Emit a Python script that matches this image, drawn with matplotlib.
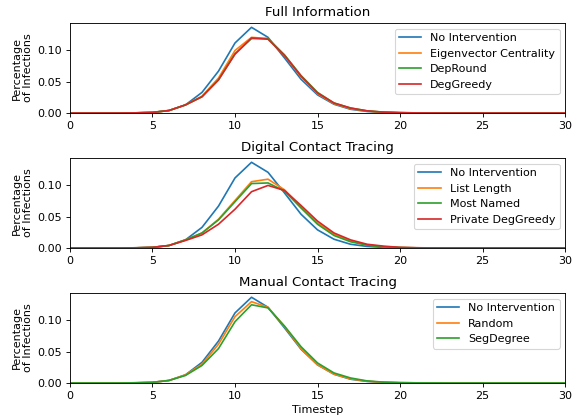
import numpy as np
import matplotlib
matplotlib.use('Agg')
import matplotlib.pyplot as plt

# timesteps 0..30
t = np.arange(0, 31)

# baseline curve, same in every panel
no_intervention = [0, 0, 0, 0, 0.0003, 0.001, 0.004, 0.013, 0.033, 0.067, 0.112, 0.137, 0.121,
                   0.088, 0.054, 0.029, 0.014, 0.006, 0.0025, 0.001, 0.0004, 0.0002, 0.0001,
                   0, 0, 0, 0, 0, 0, 0, 0]

# full information
eigenvector = [0, 0, 0, 0, 0.0003, 0.001, 0.004, 0.013, 0.027, 0.056, 0.100, 0.121, 0.119,
               0.092, 0.058, 0.031, 0.015, 0.007, 0.003, 0.0012, 0.0005, 0.0002, 0.0001,
               0, 0, 0, 0, 0, 0, 0, 0]
depround = [0, 0, 0, 0, 0.0003, 0.001, 0.004, 0.013, 0.026, 0.053, 0.095, 0.119, 0.119,
            0.093, 0.060, 0.033, 0.016, 0.008, 0.0035, 0.0014, 0.0006, 0.0002, 0.0001,
            0, 0, 0, 0, 0, 0, 0, 0]
deggreedy = [0, 0, 0, 0, 0.0003, 0.001, 0.004, 0.013, 0.026, 0.053, 0.094, 0.120, 0.118,
             0.092, 0.059, 0.032, 0.016, 0.008, 0.0035, 0.0014, 0.0006, 0.0002, 0.0001,
             0, 0, 0, 0, 0, 0, 0, 0]

# digital contact tracing
list_length = [0, 0, 0, 0, 0.0003, 0.001, 0.004, 0.013, 0.024, 0.046, 0.076, 0.106, 0.110,
               0.093, 0.065, 0.040, 0.022, 0.011, 0.005, 0.002, 0.0008, 0.0003, 0.0001,
               0, 0, 0, 0, 0, 0, 0, 0]
most_named = [0, 0, 0, 0, 0.0003, 0.001, 0.004, 0.013, 0.024, 0.045, 0.074, 0.103, 0.104,
              0.091, 0.064, 0.038, 0.020, 0.010, 0.0045, 0.0018, 0.0007, 0.0003, 0.0001,
              0, 0, 0, 0, 0, 0, 0, 0]
private_deggreedy = [0, 0, 0, 0, 0.0003, 0.001, 0.004, 0.012, 0.021, 0.038, 0.062, 0.090, 0.100,
                     0.092, 0.068, 0.043, 0.024, 0.013, 0.006, 0.003, 0.001, 0.0004, 0.0001,
                     0, 0, 0, 0, 0, 0, 0, 0]

# manual contact tracing
random_sel = [0, 0, 0, 0, 0.0003, 0.001, 0.004, 0.013, 0.030, 0.062, 0.106, 0.130, 0.121,
              0.090, 0.055, 0.029, 0.014, 0.0065, 0.0028, 0.0011, 0.0004, 0.0002, 0.0001,
              0, 0, 0, 0, 0, 0, 0, 0]
segdegree = [0, 0, 0, 0, 0.0003, 0.001, 0.004, 0.012, 0.028, 0.055, 0.098, 0.125, 0.120,
             0.091, 0.058, 0.032, 0.016, 0.008, 0.0033, 0.0013, 0.0005, 0.0002, 0.0001,
             0, 0, 0, 0, 0, 0, 0, 0]

panels = [
    ('Full Information', [('No Intervention', no_intervention),
                          ('Eigenvector Centrality', eigenvector),
                          ('DepRound', depround),
                          ('DegGreedy', deggreedy)]),
    ('Digital Contact Tracing', [('No Intervention', no_intervention),
                                 ('List Length', list_length),
                                 ('Most Named', most_named),
                                 ('Private DegGreedy', private_deggreedy)]),
    ('Manual Contact Tracing', [('No Intervention', no_intervention),
                                ('Random', random_sel),
                                ('SegDegree', segdegree)]),
]

fig, axes = plt.subplots(3, 1, figsize=(7.2, 5.2375), dpi=80)
fig.subplots_adjust(left=0.1215, right=0.981, top=0.945, bottom=0.086, hspace=0.5)

for ax, (title, series) in zip(axes, panels):
    for name, vals in series:
        ax.plot(t, vals, label=name)
    ax.set_title(title)
    ax.set_xlim(0, 30)
    ax.set_ylim(bottom=0)
    ax.set_ylabel('Percentage\nof Infections')
    ax.legend(loc='upper right')

axes[-1].set_xlabel('Timestep')

plt.savefig('out.png', dpi=80)
